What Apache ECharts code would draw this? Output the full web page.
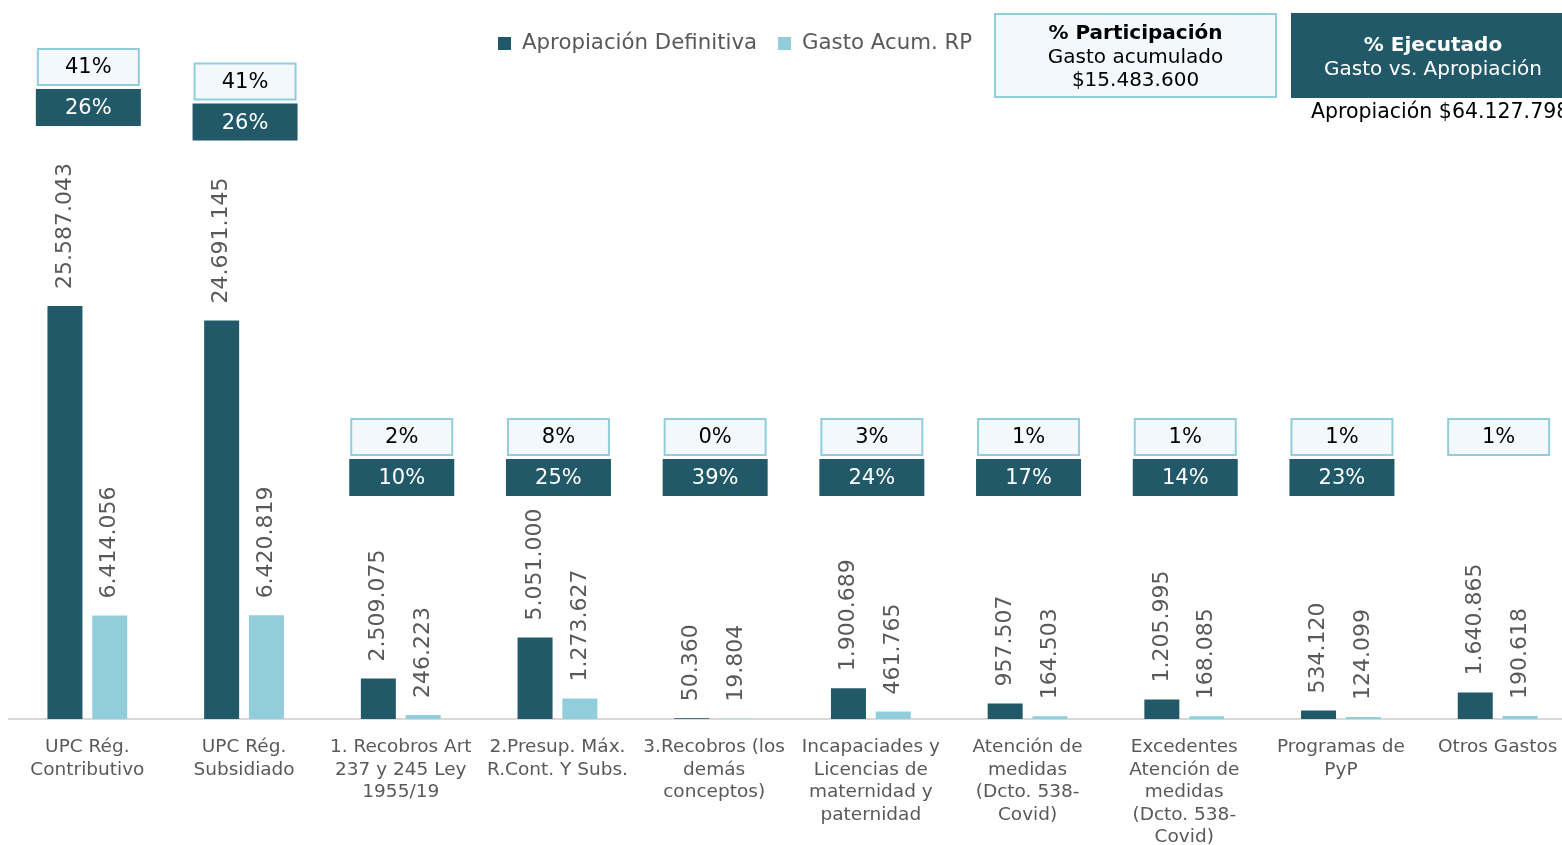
<!DOCTYPE html>
<html>
<head>
<meta charset="utf-8">
<script src="https://cdn.jsdelivr.net/npm/echarts@6/dist/echarts.min.js"></script>
<style>
html,body{margin:0;padding:0;background:#fff;}
#chart{width:1562px;height:845px;}
</style>
</head>
<body>
<div id="chart"></div>
<script>
const categories = ['UPC Rég.\nContributivo', 'UPC Rég.\nSubsidiado', '1. Recobros Art\n237 y 245 Ley\n1955/19', '2.Presup. Máx.\nR.Cont. Y Subs.', '3.Recobros (los\ndemás\nconceptos)', 'Incapaciades y\nLicencias de\nmaternidad y\npaternidad', 'Atención de\nmedidas\n(Dcto. 538-\nCovid)', 'Excedentes\nAtención de\nmedidas\n(Dcto. 538-\nCovid)', 'Programas de\nPyP', 'Otros Gastos'];
const apropiacion = [25587043, 24691145, 2509075, 5051000, 50360, 1900689, 957507, 1205995, 534120, 1640865];
const gasto = [6414056, 6420819, 246223, 1273627, 19804, 461765, 164503, 168085, 124099, 190618];
const participacion = [41, 41, 2, 8, 0, 3, 1, 1, 1, 1];
const ejecutado = [26, 26, 10, 25, 39, 24, 17, 14, 23, null];
const totalGasto = '$15.483.600';
const totalApropiacion = '$64.127.798';

const DARK = '#215968';
const LIGHT = '#92CDDC';
const PALE = '#F2F8FB';
const GREY = '#595959';
const FONT = 'DejaVu Sans';

function fmt(v) {
  return String(v).replace(/\B(?=(\d{3})+(?!\d))/g, '.');
}

const barLabel = {
  show: true,
  position: 'top',
  rotate: 90,
  align: 'left',
  verticalAlign: 'middle',
  distance: 17,
  fontSize: 22,
  color: GREY,
  fontFamily: FONT,
  formatter: p => fmt(p.value)
};

const chart = echarts.init(document.getElementById('chart'));
chart.setOption({
  animation: false,
  textStyle: { fontFamily: FONT },
  legend: {
    data: ['Apropiación Definitiva', 'Gasto Acum. RP'],
    left: 498,
    top: 33,
    padding: 0,
    itemWidth: 13,
    itemHeight: 13,
    itemGap: 21,
    icon: 'rect',
    textStyle: { fontSize: 21.3, color: GREY, fontFamily: FONT, padding: [0, 0, 0, 6] }
  },
  grid: { left: 9, width: 1567, top: 0, bottom: 126, outerBoundsMode: 'none' },
  xAxis: {
    type: 'category',
    data: categories,
    axisTick: { show: false },
    axisLine: { lineStyle: { color: '#D9D9D9', width: 2 } },
    axisLabel: {
      interval: 0,
      fontSize: 18.5,
      lineHeight: 22.5,
      color: GREY,
      margin: 17,
      fontFamily: FONT
    }
  },
  yAxis: {
    type: 'value',
    min: 0,
    max: 44550000,
    show: false,
    splitLine: { show: false }
  },
  series: [
    {
      name: 'Apropiación Definitiva',
      type: 'bar',
      data: apropiacion,
      barWidth: 35,
      barGap: '28%',
      itemStyle: { color: DARK },
      label: barLabel
    },
    {
      name: 'Gasto Acum. RP',
      type: 'bar',
      data: gasto,
      barWidth: 35,
      barGap: '28%',
      itemStyle: { color: LIGHT },
      label: barLabel
    },
    {
      name: 'boxes',
      type: 'custom',
      silent: true,
      clip: false,
      data: categories.map((c, i) => [i, apropiacion[i], participacion[i], ejecutado[i] == null ? -1 : ejecutado[i]]),
      encode: { x: 0, y: 1 },
      renderItem: function (params, api) {
        const i = api.value(0);
        const val = api.value(1);
        const cx = api.coord([i, 0])[0] + 1;
        const barTop = api.coord([i, val])[1];
        const darkBottom = val > 10000000 ? barTop - 180 : 496;
        const children = [];
        const lightBottom = darkBottom - 40;
        children.push({
          type: 'rect',
          shape: { x: cx - 50.5, y: lightBottom - 37, width: 101, height: 36 },
          style: { fill: PALE, stroke: LIGHT, lineWidth: 2 }
        });
        children.push({
          type: 'text',
          style: {
            x: cx, y: lightBottom - 18, text: api.value(2) + '%',
            textAlign: 'center', textVerticalAlign: 'middle',
            font: '21px "DejaVu Sans"', fill: '#000'
          }
        });
        const ej = api.value(3);
        if (ej >= 0) {
          children.push({
            type: 'rect',
            shape: { x: cx - 52.5, y: darkBottom - 37, width: 105, height: 37 },
            style: { fill: DARK }
          });
          children.push({
            type: 'text',
            style: {
              x: cx, y: darkBottom - 17, text: ej + '%',
              textAlign: 'center', textVerticalAlign: 'middle',
              font: '21px "DejaVu Sans"', fill: '#fff'
            }
          });
        }
        return { type: 'group', children: children };
      },
      z: 5
    }
  ],
  graphic: [
    { type: 'rect', shape: { x: 995, y: 14, width: 281, height: 83 }, style: { fill: PALE, stroke: LIGHT, lineWidth: 2 } },
    { type: 'text', style: { x: 1135.5, y: 34, text: '% Participación', textAlign: 'center', textVerticalAlign: 'middle', font: 'bold 20px "DejaVu Sans"', fill: '#000' } },
    { type: 'text', style: { x: 1135.5, y: 58, text: 'Gasto acumulado', textAlign: 'center', textVerticalAlign: 'middle', font: '20px "DejaVu Sans"', fill: '#000' } },
    { type: 'text', style: { x: 1135.5, y: 81, text: totalGasto, textAlign: 'center', textVerticalAlign: 'middle', font: '20px "DejaVu Sans"', fill: '#000' } },
    { type: 'rect', shape: { x: 1291, y: 13, width: 284, height: 85 }, style: { fill: DARK } },
    { type: 'text', style: { x: 1433, y: 46, text: '% Ejecutado', textAlign: 'center', textVerticalAlign: 'middle', font: 'bold 20px "DejaVu Sans"', fill: '#fff' } },
    { type: 'text', style: { x: 1433, y: 70, text: 'Gasto vs. Apropiación', textAlign: 'center', textVerticalAlign: 'middle', font: '20px "DejaVu Sans"', fill: '#fff' } },
    { type: 'text', style: { x: 1311, y: 113, text: 'Apropiación ' + totalApropiacion, textAlign: 'left', textVerticalAlign: 'middle', font: '20.5px "DejaVu Sans"', fill: '#000' } }
  ]
});
</script>
</body>
</html>
